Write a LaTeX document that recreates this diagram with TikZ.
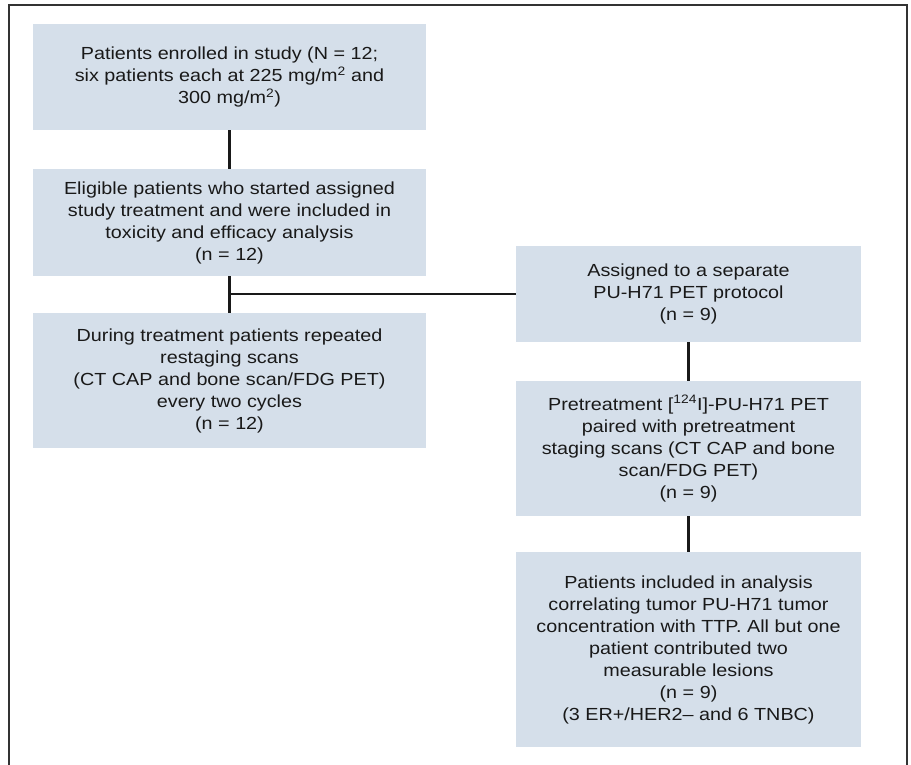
\documentclass[tikz,border=0pt]{standalone}
\usepackage{fontspec}
\setmainfont[FakeStretch=1.13]{Liberation Sans}
\definecolor{boxfill}{HTML}{D5DFEA}
\definecolor{framecol}{HTML}{333333}
\begin{document}
\begin{tikzpicture}[x=1pt,y=-1pt,
  box/.style={fill=boxfill,draw=none,rectangle,align=center,inner sep=0pt,
    font=\fontsize{17.5}{22}\selectfont,text=black!90},
  conn/.style={line width=2.8pt,black!90}]
\useasboundingbox (0,0) rectangle (911,765);
\draw[framecol,line width=1.6pt] (9,765) -- (9,5) -- (907,5) -- (907,765);
\node[box,minimum width=393,minimum height=106] (b1) at (229.5,77)
  {Patients enrolled in study (N = 12;\\six patients each at 225 mg/m\textsuperscript{2} and\\300 mg/m\textsuperscript{2})};
\node[box,minimum width=393,minimum height=107] (b2) at (229.5,222.5)
  {Eligible patients who started assigned\\study treatment and were included in\\toxicity and efficacy analysis\\(n = 12)};
\node[box,minimum width=393,minimum height=135] (b3) at (229.5,380.5)
  {During treatment patients repeated\\restaging scans\\(CT CAP and bone scan/FDG PET)\\every two cycles\\(n = 12)};
\node[box,minimum width=345,minimum height=96] (ba) at (688.5,294)
  {Assigned to a separate\\PU-H71 PET protocol\\(n = 9)};
\node[box,minimum width=345,minimum height=135] (bb) at (688.5,448.5)
  {Pretreatment [\textsuperscript{124}I]-PU-H71 PET\\paired with pretreatment\\staging scans (CT CAP and bone\\scan/FDG PET)\\(n = 9)};
\node[box,minimum width=345,minimum height=195] (bc) at (688.5,649.5)
  {Patients included in analysis\\correlating tumor PU-H71 tumor\\concentration with TTP. All but one\\patient contributed two\\measurable lesions\\(n = 9)\\(3 ER+/HER2– and 6 TNBC)};
\coordinate (j) at (b2.south |- ba.west);
\draw[conn] (b1.south) -- (b2.north);
\draw[conn] (b2.south) -- (b3.north);
\draw[conn] (j) -- (ba.west);
\draw[conn] (ba.south) -- (bb.north);
\draw[conn] (bb.south) -- (bc.north);
\end{tikzpicture}
\end{document}
